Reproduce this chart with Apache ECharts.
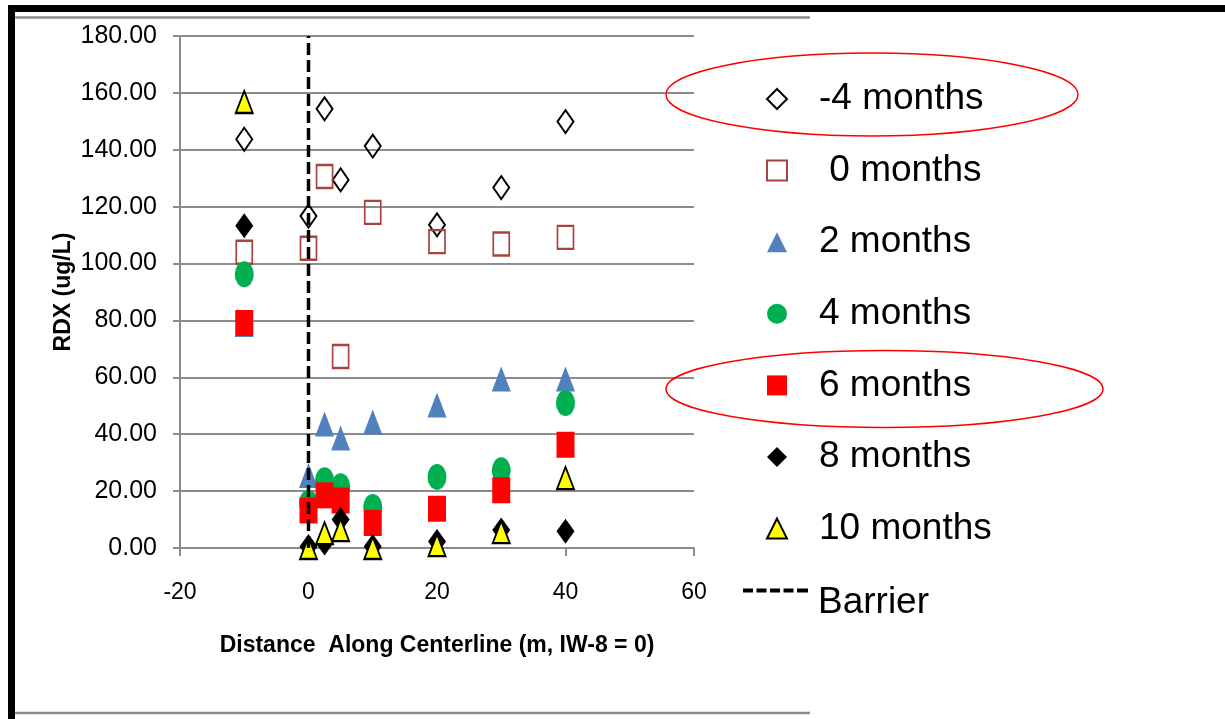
<!DOCTYPE html>
<html><head><meta charset="utf-8">
<script src="https://cdn.jsdelivr.net/npm/echarts@6/dist/echarts.min.js"></script>
<style>html,body{margin:0;padding:0;background:#fff}#c{width:1225px;height:719px}</style>
</head><body><div id="c"></div>
<script>
// ---- data ----
const distances   = [-10, 0, 2.5, 5, 10, 20, 30, 40];
const minus4Month = [143.7, 116.7, 154.4, 129.4, 141.3, 113.6, 126.7, 149.9];
const zeroMonth   = [104.0, 105.4, 130.6, 67.3, 118.0, 107.7, 106.9, 109.2];
const twoMonth    = [78.6, 25.5, 43.6, 38.7, 44.3, 50.3, 59.4, 59.4];
const fourMonth   = [96.2, 15.8, 23.8, 21.7, 14.4, 25.0, 27.3, 51.0];
const sixMonth    = [79.1, 13.2, 18.5, 16.7, 8.8, 13.8, 20.3, 36.3];
const eightMonth  = [113.3, 0.5, 1.8, 10.0, 0.5, 2.3, 6.3, 5.9];
const tenMonth    = [156.8, 0.0, 5.2, 6.3, 0.0, 1.0, 5.6, 24.6];
const seriesNames = ['-4 months', ' 0 months', '2 months', '4 months', '6 months', '8 months', '10 months'];
const barrierName = 'Barrier';
const barrierX    = [0, 0];
const barrierY    = [0, 180];
const xRange = {min: -20, max: 60, interval: 20};
const yRange = {min: 0, max: 180, interval: 20};

const pairs = vals => distances.map((d, i) => [d, vals[i]]);
const GRAY = '#8c8c8c';
const FONT = "'Liberation Sans', Arial, sans-serif";

const chart = echarts.init(document.getElementById('c'), null, {renderer: 'canvas'});

const scatter = (name, vals, symbol, size, itemStyle) => ({
  type: 'scatter', name, data: pairs(vals), symbol, symbolSize: size,
  itemStyle: Object.assign({opacity: 1}, itemStyle), emphasis: {disabled: true}
});

// dashed icon for the Barrier legend entry
const dashIcon = 'path://M0,0h10v4h-10z M13.5,0h10v4h-10z M27,0h10v4h-10z M40.5,0h10v4h-10z M54,0h10v4h-10z M64,0h1v4h-1z';

chart.setOption({
  animation: false,
  backgroundColor: '#ffffff',
  grid: {left: 180, right: 1225 - 694, top: 36, bottom: 719 - 548, containLabel: false, outerBoundsMode: 'none'},
  xAxis: {
    type: 'value', min: xRange.min, max: xRange.max, interval: xRange.interval,
    name: 'Distance  Along Centerline (m, IW-8 = 0)', nameLocation: 'middle', nameGap: 86,
    nameTextStyle: {fontFamily: FONT, fontWeight: 'bold', fontSize: 23, color: '#000'},
    axisLine: {show: true, onZero: false, lineStyle: {color: GRAY, width: 2}},
    axisTick: {show: true, inside: false, length: 8, lineStyle: {color: GRAY, width: 2}},
    axisLabel: {color: '#000', fontFamily: FONT, fontSize: 23, margin: 33},
    splitLine: {show: false}
  },
  yAxis: {
    type: 'value', min: yRange.min, max: yRange.max, interval: yRange.interval,
    name: 'RDX (ug/L)', nameLocation: 'middle', nameGap: 105, nameRotate: 90,
    nameTextStyle: {fontFamily: FONT, fontWeight: 'bold', fontSize: 23, color: '#000'},
    axisLine: {show: true, onZero: false, lineStyle: {color: GRAY, width: 2}},
    axisTick: {show: true, inside: false, length: 7, lineStyle: {color: GRAY, width: 2}},
    axisLabel: {color: '#000', fontFamily: FONT, fontSize: 25, margin: 23, formatter: v => v.toFixed(2)},
    splitLine: {show: true, lineStyle: {color: GRAY, width: 2}}
  },
  legend: [
    {
      orient: 'vertical', left: 766, top: 77, padding: 0,
      itemWidth: 20, itemHeight: 20, itemGap: 27.6, selectedMode: false, symbolKeepAspect: true,
      data: seriesNames,
      textStyle: {fontFamily: FONT, fontSize: 37, color: '#000', lineHeight: 44, padding: [0, 0, 0, 27]}
    },
    {
      orient: 'vertical', left: 743, top: 560, padding: 0,
      itemWidth: 65, itemHeight: 4, selectedMode: false, symbolKeepAspect: true,
      data: [{name: barrierName, icon: dashIcon}],
      itemStyle: {color: '#000'},
      formatter: '{b|{name}}',
      textStyle: {
        fontFamily: FONT, fontSize: 37, color: '#000', lineHeight: 44, padding: [0, 0, 0, 5],
        rich: {b: {fontFamily: FONT, fontSize: 37, color: '#000', lineHeight: 44, padding: [24, 0, 0, 0]}}
      }
    }
  ],
  series: [
    {
      type: 'line', name: barrierName, data: barrierX.map((x, i) => [x, barrierY[i]]),
      symbol: 'none', showSymbol: false, silent: true,
      itemStyle: {color: '#000'},
      lineStyle: {color: '#000', width: 3.5, type: [12, 5]}, emphasis: {disabled: true}
    },
    scatter(seriesNames[0], minus4Month, 'diamond', [16, 23], {color: 'rgba(0,0,0,0)', borderColor: '#000', borderWidth: 2}),
    scatter(seriesNames[1], zeroMonth, 'rect', [16, 23], {color: 'rgba(0,0,0,0)', borderColor: '#A8423F', borderWidth: 2}),
    scatter(seriesNames[2], twoMonth, 'triangle', [19, 25], {color: '#4F81BD'}),
    scatter(seriesNames[3], fourMonth, 'circle', [19, 26], {color: '#00B050'}),
    scatter(seriesNames[4], sixMonth, 'rect', [18, 26], {color: '#FF0000'}),
    scatter(seriesNames[5], eightMonth, 'diamond', [18, 25], {color: '#000'}),
    scatter(seriesNames[6], tenMonth, 'triangle', [17, 22], {color: '#FFFF00', borderColor: '#000', borderWidth: 2})
  ],
  graphic: [
    {type: 'rect', shape: {x: 8, y: 5, width: 1217, height: 7}, style: {fill: '#000'}, silent: true},
    {type: 'rect', shape: {x: 8, y: 5, width: 7, height: 714}, style: {fill: '#000'}, silent: true},
    {type: 'line', shape: {x1: 15, y1: 17.5, x2: 810, y2: 17.5}, style: {stroke: GRAY, lineWidth: 2.5}, silent: true},
    {type: 'line', shape: {x1: 15, y1: 713, x2: 810, y2: 713}, style: {stroke: GRAY, lineWidth: 2.5}, silent: true},
    {type: 'ellipse', z: 100, shape: {cx: 872, cy: 94.5, rx: 206, ry: 41.5}, style: {fill: 'none', stroke: '#FF0000', lineWidth: 1.5}, silent: true},
    {type: 'ellipse', z: 100, shape: {cx: 884.5, cy: 389, rx: 218.5, ry: 38.5}, style: {fill: 'none', stroke: '#FF0000', lineWidth: 1.5}, silent: true}
  ]
});
</script></body></html>
